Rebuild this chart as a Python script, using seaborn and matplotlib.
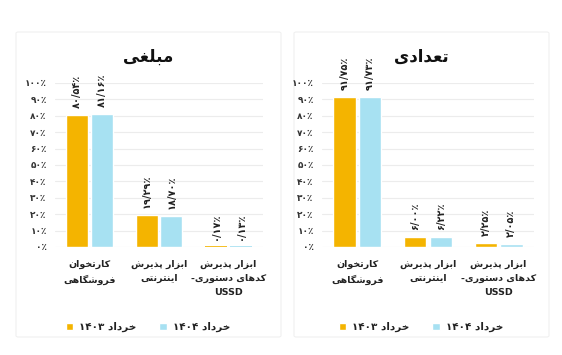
import re
import pandas as pd
import seaborn as sns
import matplotlib.pyplot as plt
from matplotlib.patches import FancyBboxPatch

# ---- data ----
categories = ['کارتخوان\nفروشگاهی', 'ابزار پذیرش\nاینترنتی', 'ابزار پذیرش\nکدهای دستوری-\nUSSD']
periods = ['خرداد ۱۴۰۳', 'خرداد ۱۴۰۴']

amount_1403 = [80.54, 19.29, 0.17]
amount_1404 = [81.16, 18.70, 0.13]
count_1403 = [91.75, 6.00, 2.25]
count_1404 = [91.73, 6.22, 2.05]

yticks = [0, 10, 20, 30, 40, 50, 60, 70, 80, 90, 100]
colors = ['#F4B400', '#A7E1F2']

# ---- minimal persian shaping (matplotlib draws LTR, no joining) ----
FORMS = {
    'ا': (0xFE8D, 0xFE8E, None, None), 'آ': (0xFE81, 0xFE82, None, None),
    'ب': (0xFE8F, 0xFE90, 0xFE91, 0xFE92), 'پ': (0xFB56, 0xFB57, 0xFB58, 0xFB59),
    'ت': (0xFE95, 0xFE96, 0xFE97, 0xFE98), 'خ': (0xFEA5, 0xFEA6, 0xFEA7, 0xFEA8),
    'د': (0xFEA9, 0xFEAA, None, None), 'ذ': (0xFEAB, 0xFEAC, None, None),
    'ر': (0xFEAD, 0xFEAE, None, None), 'ز': (0xFEAF, 0xFEB0, None, None),
    'س': (0xFEB1, 0xFEB2, 0xFEB3, 0xFEB4), 'ش': (0xFEB5, 0xFEB6, 0xFEB7, 0xFEB8),
    'ع': (0xFEC9, 0xFECA, 0xFECB, 0xFECC), 'غ': (0xFECD, 0xFECE, 0xFECF, 0xFED0),
    'ف': (0xFED1, 0xFED2, 0xFED3, 0xFED4), 'ک': (0xFB8E, 0xFB8F, 0xFB90, 0xFB91),
    'گ': (0xFB92, 0xFB93, 0xFB94, 0xFB95), 'ل': (0xFEDD, 0xFEDE, 0xFEDF, 0xFEE0),
    'م': (0xFEE1, 0xFEE2, 0xFEE3, 0xFEE4), 'ن': (0xFEE5, 0xFEE6, 0xFEE7, 0xFEE8),
    'ه': (0xFEE9, 0xFEEA, 0xFEEB, 0xFEEC), 'و': (0xFEED, 0xFEEE, None, None),
    'ی': (0xFBFC, 0xFBFD, 0xFBFE, 0xFBFF),
}


def shape(text):
    out = []
    for i, ch in enumerate(text):
        if ch not in FORMS:
            out.append(ch)
            continue
        prev = text[i - 1] if i > 0 else None
        nxt = text[i + 1] if i < len(text) - 1 else None
        f = FORMS[ch]
        join_prev = prev in FORMS and FORMS[prev][2] is not None
        join_next = f[2] is not None and nxt in FORMS
        if join_prev and join_next:
            code = f[3]
        elif join_prev:
            code = f[1]
        elif join_next:
            code = f[2]
        else:
            code = f[0]
        out.append(chr(code))
    return ''.join(out)


def rtl(text):
    lines = []
    for line in text.split('\n'):
        s = shape(line)[::-1]
        s = re.sub(r'[0-9A-Za-z۰-۹]+', lambda m: m.group(0)[::-1], s)
        lines.append(s)
    return '\n'.join(lines)


def fa_num(s):
    return s.translate(str.maketrans('0123456789', '۰۱۲۳۴۵۶۷۸۹'))


def pct_label(v):
    return fa_num(f'{v:.2f}'.replace('.', '/')) + '٪'


# ---- figure ----
sns.set_theme(style='white')
plt.rcParams['font.family'] = ['DejaVu Sans']

fig = plt.figure(figsize=(5.62, 3.55), dpi=100)
W, H = 562, 355

# faint cards behind the two panels
for x0, x1 in [(16, 281), (294, 549)]:
    fig.patches.append(FancyBboxPatch((x0 / W, 1 - 337 / H), (x1 - x0) / W, (337 - 32) / H,
                                      boxstyle='round,pad=0,rounding_size=0.004',
                                      transform=fig.transFigure, facecolor='white',
                                      edgecolor='#f0f0f0', linewidth=0.8, zorder=-5))

panels = [
    ('مبلغی', amount_1403, amount_1404, (55, 263), 148),
    ('تعدادی', count_1403, count_1404, (322, 534), 421),
]

for title, v1403, v1404, (px0, px1), title_x in panels:
    ax = fig.add_axes([px0 / W, 1 - 247 / H, (px1 - px0) / W, (247 - 83) / H])
    ax.set_facecolor('none')
    df = pd.DataFrame({
        'category': [rtl(c) for c in categories] * 2,
        'period': [rtl(periods[0])] * 3 + [rtl(periods[1])] * 3,
        'value': v1403 + v1404,
    })
    sns.barplot(data=df, x='category', y='value', hue='period',
                palette=colors, width=0.72, gap=0.12, saturation=1,
                ax=ax, zorder=3)

    for cont, vals in zip(ax.containers, [v1403, v1404]):
        ax.bar_label(cont, labels=[pct_label(v) for v in vals], rotation=90,
                     padding=5, fontsize=7, fontweight='bold', color='#222222')
        # very small bars still show as a thin strip
        for bar, v in zip(cont, vals):
            if v < 1:
                bar.set_edgecolor(bar.get_facecolor())
                bar.set_linewidth(1.2)

    ax.set_ylim(0, 100)
    ax.set_xlim(-0.5, 2.5)
    ax.set_yticks(yticks)
    ax.set_yticklabels([fa_num(str(t)) + '٪' for t in yticks], fontsize=6.5,
                       fontweight='bold', color='#333333')
    ax.tick_params(axis='y', length=0, pad=6)
    ax.tick_params(axis='x', length=0, pad=9)
    for lab in ax.get_xticklabels():
        lab.set_fontsize(6.8)
        lab.set_fontweight('bold')
        lab.set_color('#222222')
        lab.set_linespacing(1.7)
        lab.set_verticalalignment('top')
    ax.set_xlabel('')
    ax.set_ylabel('')
    ax.yaxis.grid(True, color='#ececec', linewidth=0.8, zorder=0)
    ax.set_axisbelow(True)
    sns.despine(ax=ax, left=True, bottom=True)

    fig.text(title_x / W, 1 - 57 / H, rtl(title), ha='center', va='center',
             fontsize=12, fontweight='bold', color='#111111')

    leg = ax.legend(loc='center', bbox_to_anchor=((title_x - px0) / (px1 - px0), (247 - 327) / (247 - 83)),
                    ncol=2, frameon=False, fontsize=7.5, handlelength=0.7, handleheight=0.7,
                    handletextpad=0.6, columnspacing=2.2)
    for t in leg.get_texts():
        t.set_fontweight('bold')
        t.set_color('#222222')

fig.savefig('out.png', dpi=100, facecolor='white')
